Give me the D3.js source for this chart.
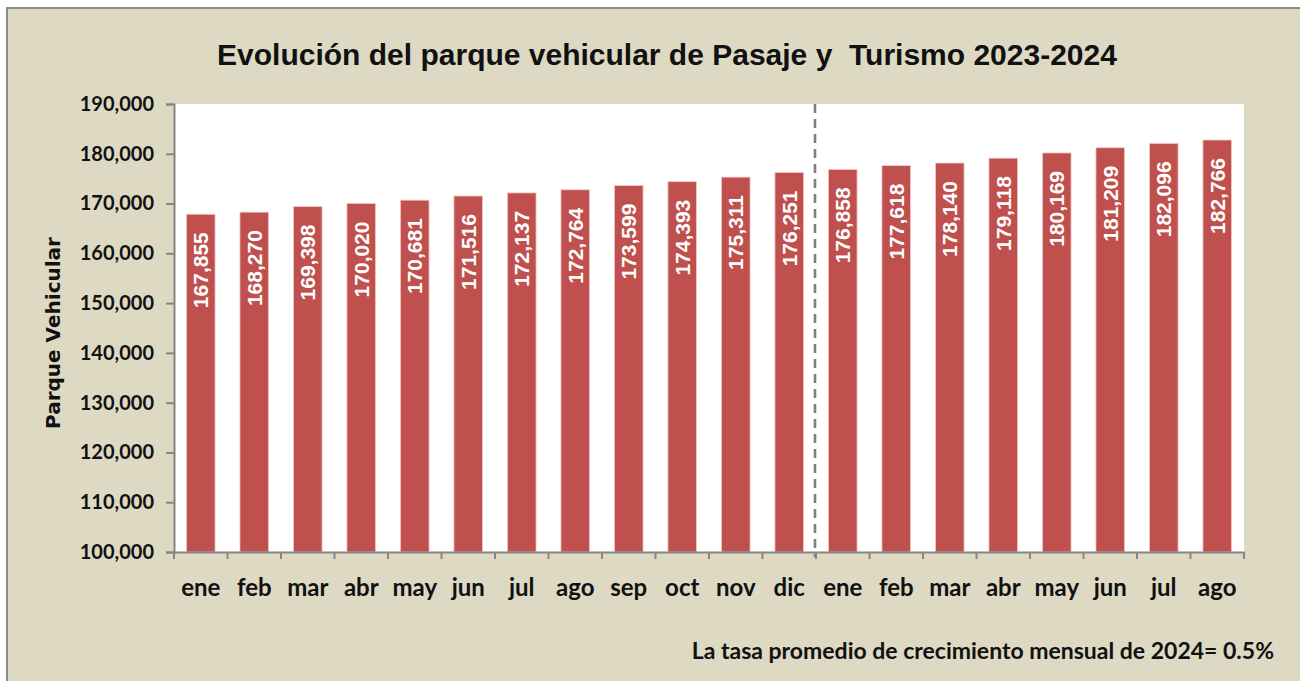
<!DOCTYPE html>
<html>
<head>
<meta charset="utf-8">
<script src="https://cdn.jsdelivr.net/npm/d3@7"></script>
<style>
	html, body { margin: 0; padding: 0; background: #fff; }
	svg { display: block; }
</style>
</head>
<body>
<svg id="chart" width="1300" height="681"></svg>
<script>
/*=================================
	DATA
**===============================*/

var months2023 = ["ene", "feb", "mar", "abr", "may", "jun", "jul", "ago", "sep", "oct", "nov", "dic"];
var months2024 = ["ene", "feb", "mar", "abr", "may", "jun", "jul", "ago"];
var values2023 = [167855, 168270, 169398, 170020, 170681, 171516, 172137, 172764, 173599, 174393, 175311, 176251];
var values2024 = [176858, 177618, 178140, 179118, 180169, 181209, 182096, 182766];
var yTicks = [100000, 110000, 120000, 130000, 140000, 150000, 160000, 170000, 180000, 190000];

var titleText = "Evolución del parque vehicular de Pasaje y  Turismo 2023-2024";
var yTitle = "Parque Vehicular";
var noteText = "La tasa promedio de crecimiento mensual de 2024= 0.5%";

//one row per bar, key keeps the two "ene" apart
var rows = months2023.map(function(m, i) { return {key: "2023-" + m, label: m, value: values2023[i]}; })
	.concat(months2024.map(function(m, i) { return {key: "2024-" + m, label: m, value: values2024[i]}; }));

/*=================================
	LAYOUT
**===============================*/

var svg = d3.select("#chart");
var plot = {left: 174, right: 1244, top: 104, bottom: 552};
var labelFont = "Lato, 'Open Sans', sans-serif";

var x = d3.scaleBand()
	.domain(rows.map(function(d) { return d.key; }))
	.range([plot.left, plot.right])
	.paddingInner(0.465)
	.paddingOuter(0.2325);

var y = d3.scaleLinear()
	.domain([100000, 190000])
	.range([plot.bottom, plot.top]);

var fmt = d3.format(",");

//background panel
svg.append("rect")
	.attr("x", 7).attr("y", 8)
	.attr("width", 1300).attr("height", 700)
	.attr("fill", "#ddd9c3")
	.attr("stroke", "#8c8c8c")
	.attr("stroke-width", 2);

svg.append("rect")
	.attr("x", plot.left).attr("y", plot.top)
	.attr("width", plot.right - plot.left)
	.attr("height", plot.bottom - plot.top)
	.attr("fill", "#fff");

/*=================================
	BARS
**===============================*/

svg.append("g").selectAll("rect")
	.data(rows)
	.join("rect")
	.attr("x", function(d) { return x(d.key); })
	.attr("y", function(d) { return y(d.value); })
	.attr("width", x.bandwidth())
	.attr("height", function(d) { return y(100000) - y(d.value); })
	.attr("fill", "#c0504d")
	.attr("stroke", "#f2c9c7")
	.attr("stroke-width", 0.8);

//value labels inside the bars, rotated
svg.append("g").selectAll("text")
	.data(rows)
	.join("text")
	.attr("transform", function(d) {
		return "translate(" + (x(d.key) + x.bandwidth() / 2 + 7.5) + "," + (y(d.value) + 18) + ") rotate(-90)";
	})
	.attr("text-anchor", "end")
	.attr("font-family", "'Liberation Sans', Arial, sans-serif")
	.attr("font-weight", "bold")
	.attr("font-size", 21)
	.attr("fill", "#fff")
	.text(function(d) { return fmt(d.value); });

/*=================================
	AXES
**===============================*/

var yAxis = svg.append("g")
	.attr("transform", "translate(" + plot.left + ",0)")
	.call(d3.axisLeft(y).tickValues(yTicks).tickSize(8).tickPadding(12).tickFormat(fmt));

yAxis.select(".domain").attr("stroke", "#868686").attr("stroke-width", 2);
yAxis.selectAll(".tick line").attr("stroke", "#868686").attr("stroke-width", 2);
yAxis.selectAll(".tick text")
	.attr("font-family", labelFont)
	.attr("font-weight", "bold")
	.attr("font-size", 20)
	.attr("fill", "#111");

var xAxis = svg.append("g")
	.attr("transform", "translate(0," + plot.bottom + ")")
	.call(d3.axisBottom(x).tickSize(0).tickPadding(27).tickFormat(function(k) {
		return k.split("-")[1];
	}));

xAxis.select(".domain").attr("stroke", "#868686").attr("stroke-width", 2);
xAxis.selectAll(".tick text")
	.attr("font-family", labelFont)
	.attr("font-weight", "bold")
	.attr("font-size", 24)
	.attr("fill", "#111");

//tick marks sit between the categories
var edges = d3.range(rows.length + 1);
svg.append("g").selectAll("line")
	.data(edges)
	.join("line")
	.attr("x1", function(i) { return plot.left + i * x.step(); })
	.attr("x2", function(i) { return plot.left + i * x.step(); })
	.attr("y1", plot.bottom)
	.attr("y2", plot.bottom + 7)
	.attr("stroke", "#868686")
	.attr("stroke-width", 2);

//dashed divider between 2023 and 2024
var splitX = plot.left + months2023.length * x.step() - 1;
svg.append("line")
	.attr("x1", splitX).attr("x2", splitX)
	.attr("y1", plot.top).attr("y2", plot.bottom + 5)
	.attr("stroke", "#7f7f7f")
	.attr("stroke-width", 2.6)
	.attr("stroke-dasharray", "9,6");

/*=================================
	TEXTS
**===============================*/

svg.append("text")
	.attr("x", 667).attr("y", 65)
	.attr("text-anchor", "middle")
	.attr("font-family", "'Liberation Sans', Arial, sans-serif")
	.attr("font-weight", "bold")
	.attr("font-size", 30)
	.attr("fill", "#111")
	.style("white-space", "pre")
	.text(titleText);

svg.append("text")
	.attr("transform", "translate(60,333) rotate(-90)")
	.attr("text-anchor", "middle")
	.attr("font-family", "'DejaVu Sans', sans-serif")
	.attr("font-weight", "bold")
	.attr("font-size", 20)
	.attr("fill", "#111")
	.text(yTitle);

svg.append("text")
	.attr("x", 1274).attr("y", 659)
	.attr("text-anchor", "end")
	.attr("font-family", labelFont)
	.attr("font-weight", "bold")
	.attr("font-size", 23)
	.attr("fill", "#111")
	.text(noteText);
</script>
</body>
</html>
